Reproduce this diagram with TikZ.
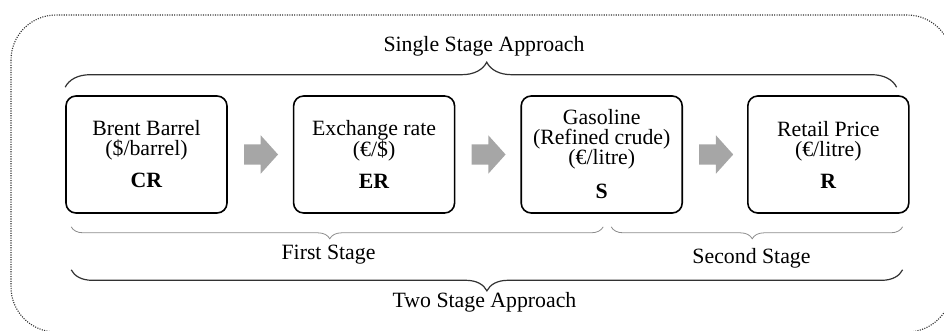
\documentclass[tikz,border=0pt]{standalone}
\usepackage{fontspec}
\setmainfont{Liberation Serif}
\usetikzlibrary{positioning,shapes.arrows,decorations.pathreplacing}
\definecolor{arrowgray}{RGB}{166,166,166}
\definecolor{bracegray}{RGB}{140,140,140}
\definecolor{darkline}{RGB}{50,50,50}

\begin{document}
\begin{tikzpicture}[x=1pt, y=1pt,
  font=\fontsize{21.8}{20}\selectfont,
  box/.style={draw, line width=1.6pt, rounded corners=10pt, minimum width=161pt, minimum height=117pt, align=center, inner sep=0pt},
  blockarrow/.style={single arrow, fill=arrowgray, draw=none, inner xsep=0pt, inner ysep=10pt, minimum height=34pt, minimum width=0pt, single arrow head extend=9pt, single arrow tip angle=96},
  bigbrace/.style={decorate, line width=1.2pt, draw=darkline},
  smallbrace/.style={decorate, line width=0.8pt, draw=bracegray},
  bracetext/.style={inner sep=0pt, anchor=base}]
\useasboundingbox (0,0) rectangle (944,330);
\draw[darkline, line width=1.1pt, dash pattern=on 1.1pt off 1.3pt, rounded corners=45pt] (11,315) rectangle (952,-2);
\node[box] (cr) at (146.5,175.5) {Brent Barrel\\(\$/barrel)\\[12pt]\textbf{CR}};
\node[blockarrow, right=16pt of cr] (arr1) {};
\node[box, right=65pt of cr] (er) {Exchange rate\\(€/\$)\\[12pt]\textbf{ER}};
\node[blockarrow, right=16pt of er] (arr2) {};
\node[box, right=65pt of er] (s) {Gasoline\\(Refined crude)\\(€/litre)\\[14pt]\textbf{S}};
\node[blockarrow, right=16pt of s] (arr3) {};
\node[box, right=64pt of s] (r) {Retail Price\\(€/litre)\\[12pt]\textbf{R}};
\draw[bigbrace, decoration={brace, amplitude=25pt, aspect=0.507}] ([yshift=8pt]cr.north west) -- ([xshift=-13pt, yshift=8pt]r.north east);
\draw[smallbrace, decoration={brace, mirror, amplitude=12pt, aspect=0.486}] ([xshift=6pt, yshift=-13pt]cr.south west) -- ([xshift=1.5pt, yshift=-13pt]s.south);
\draw[smallbrace, decoration={brace, mirror, amplitude=12pt, aspect=0.484}] ([xshift=9.5pt, yshift=-13pt]s.south) -- ([xshift=-7pt, yshift=-13pt]r.south east);
\draw[bigbrace, decoration={brace, mirror, amplitude=21pt}] ([xshift=6pt, yshift=-56pt]cr.south west) -- ([xshift=-7pt, yshift=-56pt]r.south east);
\node[bracetext] (single) at (484,278) {Single Stage Approach};
\node[bracetext] (first) at (328.5,71) {First Stage};
\node[bracetext] (second) at (751.5,67) {Second Stage};
\node[bracetext] (two) at (484.5,23) {Two Stage Approach};
\end{tikzpicture}
\end{document}
